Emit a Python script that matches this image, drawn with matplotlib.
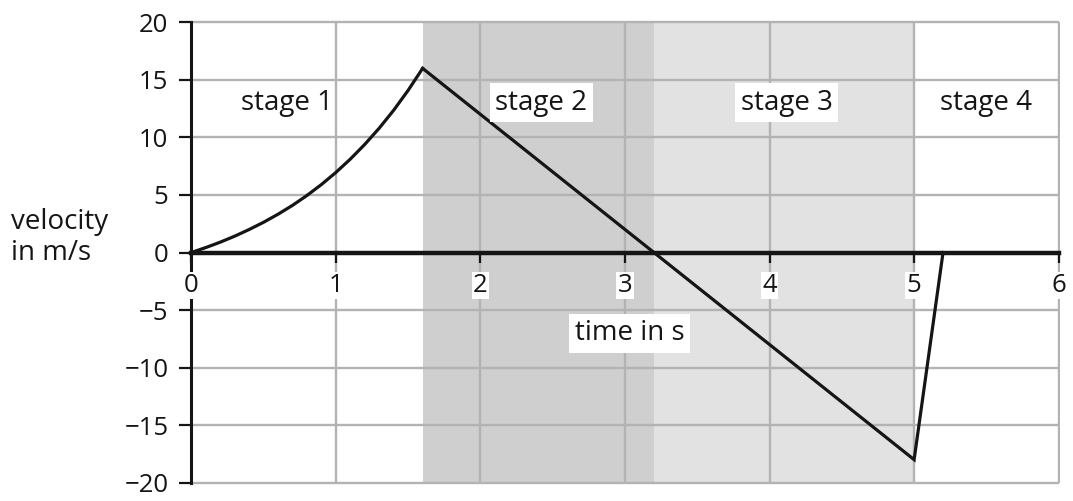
import matplotlib
matplotlib.use("Agg")
import matplotlib.pyplot as plt
from matplotlib.transforms import blended_transform_factory

plt.rcParams['font.family'] = ['Open Sans', 'DejaVu Sans']

# Stage 1: accelerating phase (curved rise)
t_stage1 = [0.0, 0.1, 0.2, 0.3, 0.4, 0.5, 0.6, 0.7, 0.8, 0.9, 1.0,
            1.1, 1.2, 1.3, 1.4, 1.5, 1.6]
v_stage1 = [0.0, 0.43, 0.9, 1.42, 2.0, 2.63, 3.33, 4.1, 4.96, 5.91, 6.96,
            8.12, 9.4, 10.81, 12.37, 14.1, 16.0]

# Stages 2-4: straight segments
t_rest = [1.6, 5.0, 5.2]
v_rest = [16.0, -18.0, 0.0]

# Shaded stage intervals
dark_span = (1.6, 3.2)
light_span = (3.2, 5.0)

stage_labels = ["stage 1", "stage 2", "stage 3", "stage 4"]
stage_label_t = [0.66, 2.42, 4.12, 5.5]
stage_label_v = 13.0

x_ticks = [0, 1, 2, 3, 4, 5, 6]
y_ticks = [-20, -15, -10, -5, 0, 5, 10, 15, 20]
y_tick_labels = ["\u221220", "\u221215", "\u221210", "\u22125", "0", "5", "10", "15", "20"]

fig = plt.figure(figsize=(10.73, 5.01), dpi=100)
ax = fig.add_axes([0.177, 0.032, 0.811, 0.928])
ax.set_xlim(-0.01, 6.01)
ax.set_ylim(-20.2, 20.2)

dark_grey = "#cfcfcf"
light_grey = "#e2e2e2"
grid_grey = "#b3b3b3"
ink = "#151515"

ax.fill_between(dark_span, -20, 20, color=dark_grey, lw=0, zorder=0)
ax.fill_between(light_span, -20, 20, color=light_grey, lw=0, zorder=0)

# grid lines, drawn over shading
for xv in x_ticks[1:]:
    ax.plot([xv, xv], [-20, 20], color=grid_grey, lw=1.7, zorder=1,
            solid_capstyle='butt')
for yv in y_ticks:
    if yv != 0:
        ax.plot([0, 6], [yv, yv], color=grid_grey, lw=1.7, zorder=1,
                solid_capstyle='butt')

for side in ("top", "right"):
    ax.spines[side].set_visible(False)
ax.spines['left'].set_position(('data', 0))
ax.spines['left'].set_bounds(-20, 20)
ax.spines['left'].set_linewidth(2.2)
ax.spines['left'].set_color(ink)
ax.spines['left'].set_zorder(2)
ax.spines['bottom'].set_position(('data', 0))
ax.spines['bottom'].set_bounds(0, 6)
ax.spines['bottom'].set_linewidth(3.2)
ax.spines['bottom'].set_color(ink)
ax.spines['bottom'].set_zorder(4)

ax.set_yticks(y_ticks)
ax.set_yticklabels(y_tick_labels)
ax.tick_params(axis='y', direction='out', length=8.5, width=1.6,
               pad=8, labelsize=18.5, colors=ink)
ax.set_xticks(x_ticks)
ax.set_xticklabels([])
ax.tick_params(axis='x', direction='out', length=7.5, width=1.6, colors=ink)

# x tick labels with white boxes
for xv in x_ticks:
    ax.text(xv, -2.85, str(xv), ha='center', va='center', fontsize=18.5,
            color=ink, zorder=5,
            bbox=dict(facecolor='white', edgecolor='none', pad=1.0))

ax.plot(t_stage1, v_stage1, color=ink, lw=2.3, zorder=6,
        solid_joinstyle='round')
ax.plot(t_rest, v_rest, color=ink, lw=2.3, zorder=6,
        solid_joinstyle='miter')

for i, (lab, tx) in enumerate(zip(stage_labels, stage_label_t)):
    box = None if i in (0, 3) else dict(facecolor='white', edgecolor='none', pad=4)
    ax.text(tx, stage_label_v, lab, ha='center', va='center', fontsize=20,
            color=ink, zorder=7, bbox=box)

ax.text(3.03, -7.0, "time in s", ha='center', va='center', fontsize=20,
        color=ink, zorder=7,
        bbox=dict(facecolor='white', edgecolor='none', pad=4))

trans = blended_transform_factory(fig.transFigure, ax.transData)
ax.text(0.010, 1.3, "velocity\nin m/s", transform=trans, ha='left', va='center',
        fontsize=20, color=ink, linespacing=1.1)

fig.savefig("out.png", dpi=100)
